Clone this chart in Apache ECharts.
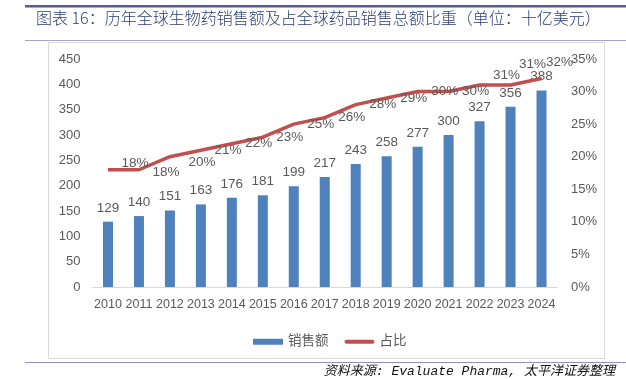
<!DOCTYPE html>
<html><head><meta charset="utf-8">
<script src="https://cdn.jsdelivr.net/npm/echarts@6/dist/echarts.min.js"></script>
<style>html,body{margin:0;padding:0;background:#fff}#c{width:626px;height:379px}</style>
</head><body><div id="c"></div>
<script>
const years = ['2010','2011','2012','2013','2014','2015','2016','2017','2018','2019','2020','2021','2022','2023','2024'];
const sales = [129,140,151,163,176,181,199,217,243,258,277,300,327,356,388];
const share = [18,18,20,21,22,23,25,26,28,29,30,30,31,31,32];
const leftTicks = {min:0, max:450, interval:50};
const rightTicks = {min:0, max:35, interval:5};
const titleText = '图表 16：历年全球生物药销售额及占全球药品销售总额比重（单位：十亿美元）';
const sourceText = '资料来源: Evaluate Pharma, 太平洋证券整理';

const labelOffsets = {0:[0,-6],1:[0,3],2:[5,6],12:[0,-10],13:[-5,-21],14:[-9,-16]};

const chart = echarts.init(document.getElementById('c'), null, {renderer:'canvas'});
const font = "'Liberation Sans', 'Noto Sans CJK SC', sans-serif";
const txt = '#595959';
chart.setOption({
  animation:false,
  textStyle:{fontFamily:font},
  grid:{left:92.5, right:69, top:59, bottom:92, containLabel:false},
  legend:{
    top:330, left:248, itemGap:16, itemWidth:30, itemHeight:6,
    textStyle:{color:txt, fontSize:13.5, fontFamily:font},
    data:[{name:'销售额', icon:'rect'},
          {name:'占比', icon:'path://M2,0 L28,0 A2,2 0 0 1 28,4 L2,4 A2,2 0 0 1 2,0 Z', itemStyle:{color:'#c0504d'}}]
  },
  xAxis:{type:'category', data:years,
    axisLine:{lineStyle:{color:'#d9d9d9'}}, axisTick:{show:false},
    axisLabel:{color:txt, fontSize:12.5, margin:11, interval:0}},
  yAxis:[
    {type:'value', min:leftTicks.min, max:leftTicks.max, interval:leftTicks.interval,
     splitLine:{show:false}, axisLine:{show:false}, axisTick:{show:false},
     axisLabel:{color:txt, fontSize:13, margin:12}},
    {type:'value', min:rightTicks.min, max:rightTicks.max, interval:rightTicks.interval,
     splitLine:{show:false}, axisLine:{show:false}, axisTick:{show:false},
     axisLabel:{color:txt, fontSize:13, margin:14, formatter:'{value}%'}}
  ],
  series:[
    {name:'销售额', type:'bar', data:sales, barWidth:10,
     itemStyle:{color:'#4f81bd'},
     label:{show:true, position:'top', distance:7, color:txt, fontSize:13.5}},
    {name:'占比', type:'line', yAxisIndex:1,
     data:share.map((v,i)=>{
       const d = {value:v};
       if (labelOffsets[i]) d.label = {offset:labelOffsets[i]};
       return d;
     }),
     symbol:'circle', symbolSize:1, showSymbol:true,
     lineStyle:{color:'#c0504d', width:3.5}, itemStyle:{color:'#c0504d'},
     label:{show:true, position:'right', distance:13, color:txt, fontSize:13.5, formatter:'{c}%'}}
  ],
  graphic:[
    {type:'rect', shape:{x:0, y:0, width:601, height:2.5}, left:25, top:5, style:{fill:'#5a5a96'}},
    {type:'rect', shape:{x:0, y:0, width:601, height:1}, left:25, top:40, style:{fill:'#a3a3cf'}},
    {type:'rect', shape:{x:48.5, y:42.5, width:556, height:316}, style:{fill:'none', stroke:'#d9d9d9', lineWidth:1}, silent:true},
    {type:'rect', shape:{x:0, y:0, width:601, height:1}, left:25, top:362, style:{fill:'#8e8ec8'}},
    {type:'text', left:36, top:10, style:{text:titleText, fill:'#2a3c70', font:"300 16px 'Noto Sans CJK SC', sans-serif"}},
    {type:'text', right:11, top:365, style:{text:sourceText, fill:'#111', font:"italic 13px 'Liberation Mono', 'Noto Sans CJK SC', monospace"}}
  ]
});
</script></body></html>
